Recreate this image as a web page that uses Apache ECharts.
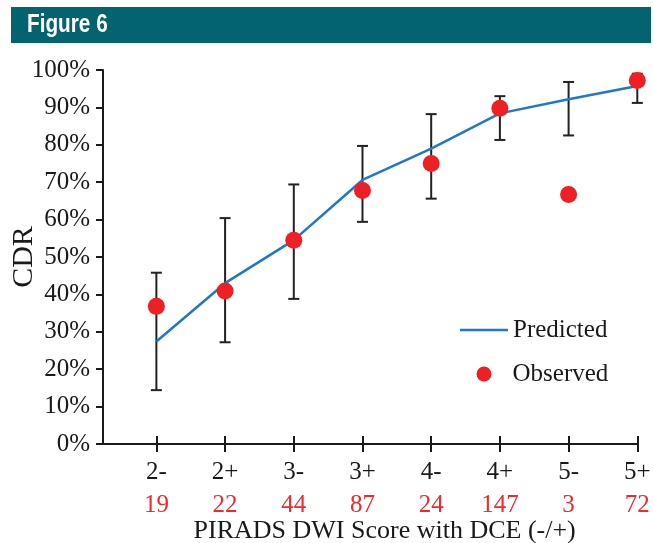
<!DOCTYPE html>
<html>
<head>
<meta charset="utf-8">
<script src="https://cdn.jsdelivr.net/npm/echarts@6/dist/echarts.min.js"></script>
<style>
html,body{margin:0;padding:0;background:#fff;}
#chart{width:653px;height:543px;}
</style>
</head>
<body>
<div id="chart"></div>
<script>
// ---- data ----
const categories = ['2-', '2+', '3-', '3+', '4-', '4+', '5-', '5+'];
const counts = [19, 22, 44, 87, 24, 147, 3, 72];
const predicted = [27.4, 43.0, 54.5, 70.6, 79.0, 88.4, 92.2, 95.7];
const observed = [36.8, 40.9, 54.5, 67.8, 75.0, 89.8, 66.7, 97.2];
const errLow = [14.4, 27.2, 38.8, 59.4, 65.6, 81.3, 82.5, 91.2];
const errHigh = [45.8, 60.4, 69.4, 79.7, 88.2, 93.0, 96.8, 99.0];

const positions = categories.map((c, i) => i + 1);
const predData = positions.map((p, i) => [p, predicted[i]]);
const obsData = positions.map((p, i) => [p, observed[i]]);
const errData = positions.map((p, i) => [p, errLow[i], errHigh[i]]);

const serif = '"Liberation Serif", "Times New Roman", serif';
const chart = echarts.init(document.getElementById('chart'), null, {renderer: 'canvas'});

const xMin = 0.223, xMax = 8;
const ink = '#1a1a1a';

chart.setOption({
  animation: false,
  backgroundColor: '#ffffff',
  graphic: [
    {type: 'rect', left: 11, top: 7, shape: {width: 640, height: 36}, style: {fill: '#03636E'}, z: 10},
    {type: 'text', x: 27, y: 25.5, scaleX: 0.83, z: 11,
     style: {text: 'Figure 6', fill: '#ffffff', verticalAlign: 'middle', align: 'left',
             font: 'bold 25px "Liberation Sans", Arial, sans-serif'}}
  ],
  grid: {left: 103, right: 15.7, top: 70, bottom: 99, containLabel: false, outerBoundsMode: 'none'},
  legend: [
    {data: [{name: 'Predicted', icon: 'rect'}], left: 460, top: 317.5, padding: 0, itemWidth: 48, itemHeight: 2.5,
     textStyle: {fontFamily: serif, fontSize: 25, color: ink, lineHeight: 25}},
    {data: [{name: 'Observed', icon: 'circle'}], left: 476.5, top: 361.5, padding: 0, itemWidth: 15, itemHeight: 15,
     textStyle: {fontFamily: serif, fontSize: 25, color: ink, lineHeight: 25, padding: [0, 0, 0, 16]}}
  ],
  xAxis: [
    {
      type: 'value', min: xMin, max: xMax, position: 'bottom',
      axisLine: {show: true, onZero: false, lineStyle: {color: ink, width: 2}},
      axisTick: {show: true, customValues: positions, length: 8, lineStyle: {color: ink, width: 2}},
      splitLine: {show: false},
      axisLabel: {
        customValues: positions, margin: 12,
        formatter: function (v) { const i = Math.round(v) - 1; return '{a|' + categories[i] + '}\n{b|' + counts[i] + '}'; },
        rich: {
          a: {fontFamily: serif, fontSize: 25, color: ink, lineHeight: 33},
          b: {fontFamily: serif, fontSize: 25, color: '#EE2A2A', lineHeight: 33}
        }
      },
      name: 'PIRADS DWI Score with DCE (-/+)', nameLocation: 'middle', nameGap: 74, nameMoveOverlap: false,
      nameTextStyle: {fontFamily: serif, fontSize: 26, color: ink, padding: [0, 0, 0, 29]}
    },
    {
      type: 'value', min: xMin, max: xMax, position: 'bottom', offset: 0,
      axisLine: {show: false},
      axisTick: {show: true, inside: true, customValues: positions, length: 8, lineStyle: {color: ink, width: 2}},
      axisLabel: {show: false}, splitLine: {show: false}
    }
  ],
  yAxis: {
    type: 'value', min: 0, max: 100, interval: 10,
    axisLine: {show: true, lineStyle: {color: ink, width: 2}},
    axisTick: {show: true, length: 7, lineStyle: {color: ink, width: 2}},
    splitLine: {show: false},
    axisLabel: {formatter: '{value}%', fontFamily: serif, fontSize: 25, color: ink, margin: 13},
    name: 'CDR', nameLocation: 'middle', nameGap: 63.5, nameRotate: 90, nameMoveOverlap: false,
    nameTextStyle: {fontFamily: serif, fontSize: 30, color: ink}
  },
  series: [
    {
      name: 'Error', type: 'custom', xAxisIndex: 0, data: errData, encode: {x: 0, y: [1, 2]}, z: 2,
      renderItem: function (params, api) {
        const x = api.value(0);
        const lo = api.coord([x, api.value(1)]);
        const hi = api.coord([x, api.value(2)]);
        const h = 5.5;
        const st = {stroke: '#222222', lineWidth: 2};
        return {type: 'group', children: [
          {type: 'line', shape: {x1: lo[0], y1: lo[1], x2: hi[0], y2: hi[1]}, style: st},
          {type: 'line', shape: {x1: lo[0] - h, y1: lo[1], x2: lo[0] + h, y2: lo[1]}, style: st},
          {type: 'line', shape: {x1: hi[0] - h, y1: hi[1], x2: hi[0] + h, y2: hi[1]}, style: st}
        ]};
      }
    },
    {
      name: 'Predicted', type: 'line', xAxisIndex: 0, data: predData, symbol: 'none', z: 3,
      lineStyle: {color: '#1F78C8', width: 2.5}, itemStyle: {color: '#1F78C8'}
    },
    {
      name: 'Observed', type: 'scatter', xAxisIndex: 0, data: obsData, symbol: 'circle', symbolSize: 17, z: 4,
      itemStyle: {color: '#EE1F25', opacity: 1}
    }
  ]
});
</script>
</body>
</html>
